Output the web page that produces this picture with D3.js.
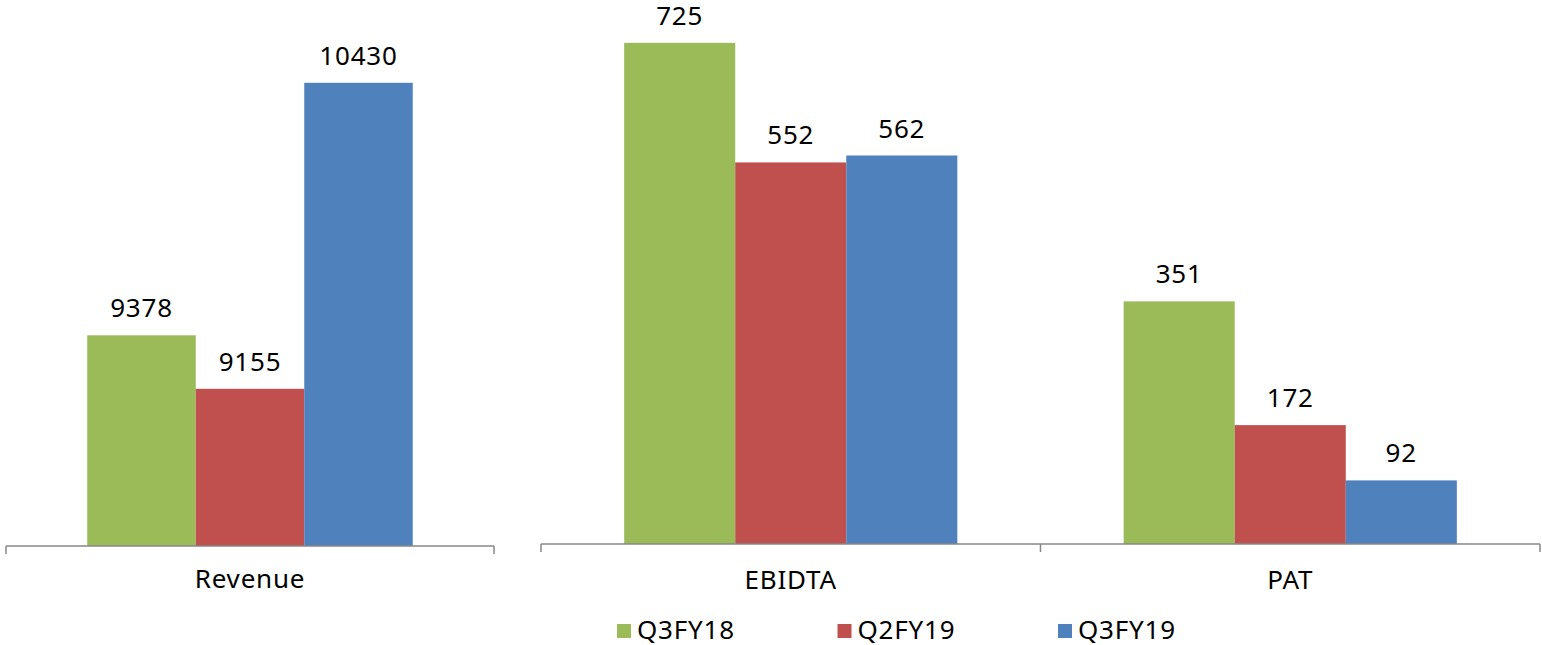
<!DOCTYPE html>
<html>
<head>
<meta charset="utf-8">
<script src="https://cdn.jsdelivr.net/npm/d3@7"></script>
<style>
  body { margin: 0; background: #fff; }
  svg text { font-family: "Noto Sans", sans-serif; fill: #000; letter-spacing: 0.8px; }
</style>
</head>
<body>
<svg id="chart" width="1542" height="645"></svg>
<script>
"use strict";

var seriesNames = ["Q3FY18", "Q2FY19", "Q3FY19"],
    seriesColours = ["#9bbb59", "#c0504d", "#4f81bd"],

    revenueCategories = ["Revenue"],
    revenueValues = [[9378, 9155, 10430]],

    profitCategories = ["EBIDTA", "PAT"],
    profitValues = [[725, 552, 562], [351, 172, 92]],

    fontSize = 26,
    labelGap = 18,
    groupShare = 0.667;

var svg = d3.select("#chart");

/*
 One panel: a category band axis along the bottom, with grouped bars
 and a value label above each bar. No value axis is shown.
 */
var drawPanel = function(categories, values, opts) {
    var g = svg.append("g"),
        x = d3.scaleBand()
            .domain(categories)
            .range([opts.left, opts.right]),
        y = d3.scaleLinear()
            .domain(opts.domain)
            .range([opts.base, opts.top]),
        inner = d3.scaleBand()
            .domain(d3.range(seriesNames.length))
            .range([0, x.bandwidth() * groupShare]),
        offset = x.bandwidth() * (1 - groupShare) / 2;

    var groups = g.selectAll("g.group")
        .data(categories)
        .enter().append("g")
        .attr("class", "group")
        .attr("transform", function(d) {
            return "translate(" + (x(d) + offset) + ",0)";
        });

    groups.selectAll("rect")
        .data(function(d, i) { return values[i]; })
        .enter().append("rect")
        .attr("x", function(v, j) { return inner(j); })
        .attr("y", function(v) { return y(v); })
        .attr("width", inner.bandwidth())
        .attr("height", function(v) { return opts.base - y(v); })
        .attr("fill", function(v, j) { return seriesColours[j]; });

    groups.selectAll("text.value")
        .data(function(d, i) { return values[i]; })
        .enter().append("text")
        .attr("class", "value")
        .attr("text-anchor", "middle")
        .attr("font-size", fontSize)
        .attr("x", function(v, j) { return inner(j) + inner.bandwidth() / 2; })
        .attr("y", function(v) { return y(v) - labelGap; })
        .text(function(v) { return v; });

    var axis = d3.axisBottom(x)
        .tickSize(0)
        .tickPadding(0);

    var axisG = g.append("g")
        .attr("transform", "translate(0," + opts.base + ")")
        .call(axis);

    axisG.select(".domain").remove();
    axisG.selectAll(".tick text")
        .attr("font-size", fontSize)
        .attr("font-family", null)
        .attr("dy", null)
        .attr("y", opts.labelY - opts.base);

    // baseline and category separators, Excel style
    var edges = [opts.left].concat(categories.map(function(c) {
        return x(c) + x.bandwidth();
    }));
    axisG.append("line")
        .attr("x1", opts.left).attr("x2", opts.right)
        .attr("y1", 0).attr("y2", 0)
        .attr("stroke", "#878787").attr("stroke-width", 1.5);
    axisG.selectAll("line.sep")
        .data(edges)
        .enter().append("line")
        .attr("class", "sep")
        .attr("x1", function(d) { return d; })
        .attr("x2", function(d) { return d; })
        .attr("y1", 0).attr("y2", 8)
        .attr("stroke", "#878787").attr("stroke-width", 1.5);
};

drawPanel(revenueCategories, revenueValues, {
    left: 6, right: 494, base: 546, top: 66,
    domain: [8500, 10500], labelY: 588
});

drawPanel(profitCategories, profitValues, {
    left: 541, right: 1540, base: 544, top: -9,
    domain: [0, 800], labelY: 589
});

// legend
var legendX = d3.scalePoint()
    .domain(seriesNames)
    .range([617, 1058]);

var legend = svg.append("g")
    .selectAll("g")
    .data(seriesNames)
    .enter().append("g")
    .attr("transform", function(d) {
        return "translate(" + legendX(d) + ",624)";
    });

legend.append("rect")
    .attr("width", 14)
    .attr("height", 14)
    .attr("fill", function(d, i) { return seriesColours[i]; });

legend.append("text")
    .attr("x", 20)
    .attr("y", 15)
    .attr("font-size", fontSize)
    .text(function(d) { return d; });
</script>
</body>
</html>
